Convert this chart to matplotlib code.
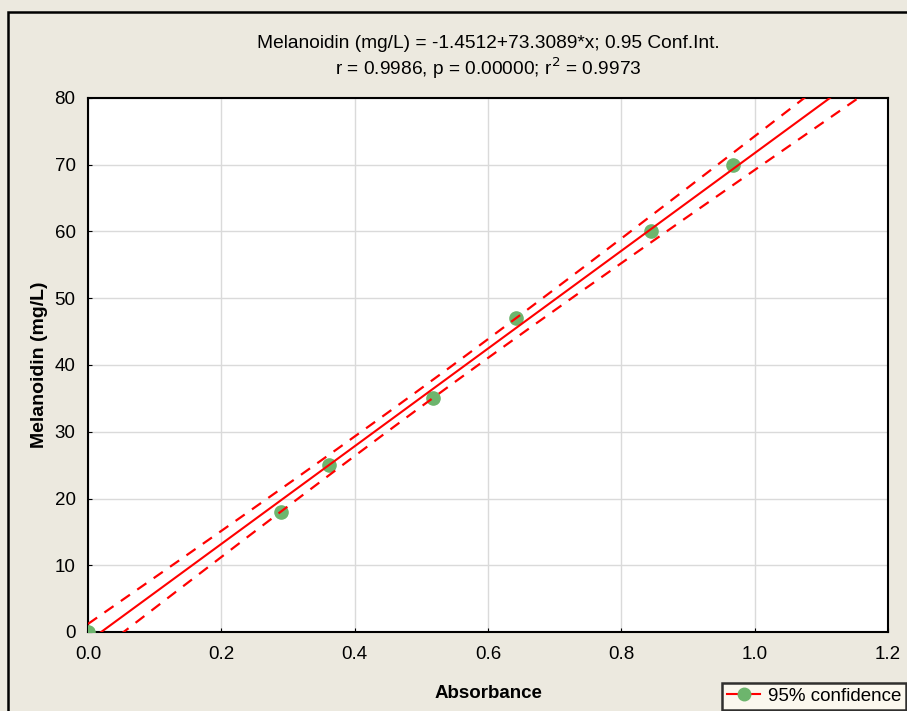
import numpy as np
import matplotlib
matplotlib.use("Agg")
import matplotlib.pyplot as plt
from matplotlib.lines import Line2D
from matplotlib.patches import Rectangle

plt.rcParams['font.family'] = ['Liberation Sans', 'DejaVu Sans']

# data
absorbance = [0.0, 0.2895, 0.3615, 0.5175, 0.642, 0.8445, 0.9675]
melanoidin = [0, 18, 25, 35, 47, 60, 70]
x_ticks = [0.0, 0.2, 0.4, 0.6, 0.8, 1.0, 1.2]
y_ticks = [0, 10, 20, 30, 40, 50, 60, 70, 80]
title = ("Melanoidin (mg/L) = -1.4512+73.3089*x; 0.95 Conf.Int.\n"
         "r = 0.9986, p = 0.00000; r$^2$ = 0.9973")

bg = '#ECE9DF'
fig = plt.figure(figsize=(9.07, 7.11), dpi=100, facecolor=bg)
ax = fig.add_axes([88 / 907, 1 - 632 / 711, 800 / 907, 534 / 711])

x = np.array(absorbance)
y = np.array(melanoidin)
n = len(x)
b1, b0 = np.polyfit(x, y, 1)
resid = y - (b0 + b1 * x)
s = np.sqrt(np.sum(resid ** 2) / (n - 2))
t_val = 2.5706  # t(0.975, df=5)
xx = np.linspace(0, 1.2, 200)
yy = b0 + b1 * xx
half = t_val * s * np.sqrt(1 / n + (xx - x.mean()) ** 2 / np.sum((x - x.mean()) ** 2))

ax.plot(x, y, 'o', color='#6DB56D', markersize=9.5, zorder=3)
ax.plot(xx, yy, color='red', lw=1.5, zorder=4)
ax.plot(xx, yy + half, color='red', lw=1.6, ls=(0, (5, 4)), zorder=4)
ax.plot(xx, yy - half, color='red', lw=1.6, ls=(0, (5, 4)), zorder=4)

ax.set_xlim(0, 1.2)
ax.set_ylim(0, 80)
ax.set_xticks(x_ticks)
ax.set_yticks(y_ticks)
ax.set_xticklabels([f"{v:.1f}" for v in x_ticks])
ax.tick_params(direction='in', length=3, labelsize=13.5)
ax.tick_params(axis='x', pad=10)
ax.tick_params(axis='y', pad=9)
ax.grid(True, color='#DADADA', lw=1)
ax.set_axisbelow(True)
for sp in ax.spines.values():
    sp.set_linewidth(1.5)

ax.set_xlabel("Absorbance", fontsize=13.5, fontweight='bold', labelpad=16)
ax.set_ylabel("Melanoidin (mg/L)", fontsize=14, fontweight='bold', labelpad=5)
fig.text(488 / 907, 1 - 58 / 711, title, ha='center', va='center',
         fontsize=13.8, linespacing=1.2)

# outer frame
fig.patches.append(Rectangle((8 / 907, -0.2), 1.2, 0.2 + 1 - 12 / 711,
                             transform=fig.transFigure, fill=False,
                             edgecolor='black', lw=1.8))

handle = Line2D([], [], color='red', marker='o', markerfacecolor='#6DB56D',
                markeredgecolor='#6DB56D', markersize=9)
leg = fig.legend([handle], ["95% confidence"], loc='upper left',
                 bbox_to_anchor=(722 / 907, 1 - 683 / 711), fontsize=13.5,
                 frameon=True, fancybox=False, borderpad=0.25,
                 borderaxespad=0, handlelength=1.8, handletextpad=0.4)
leg.get_frame().set_edgecolor('black')
leg.get_frame().set_linewidth(1.8)
leg.get_frame().set_facecolor('#FFFDF3')

fig.savefig("out.png", dpi=100, facecolor=bg)
